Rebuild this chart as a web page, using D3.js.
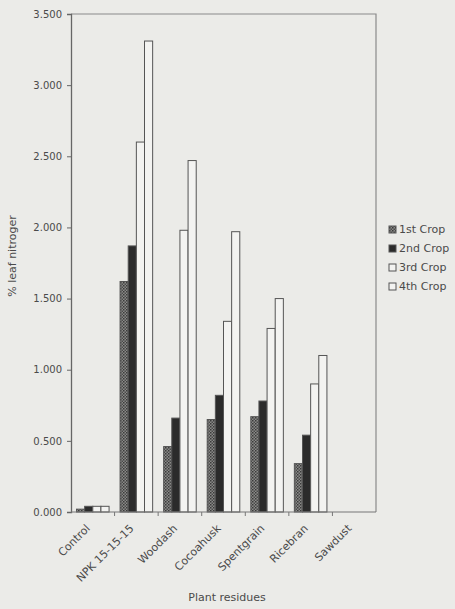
<!DOCTYPE html>
<html lang="en">
<head>
	<meta charset="UTF-8"/>
	<title>% leaf nitrogen by plant residue</title>
	<script src="https://d3js.org/d3.v7.min.js"></script>
	<style>
	body { margin: 0; background: #ebebe8; }
	text { font-family: "DejaVu Sans", sans-serif; fill: #4a4a4a; }
	</style>
</head>
<body>
	<div id="chart"></div>
	<script>

	// categories and series
	var categories = ["Control", "NPK 15-15-15", "Woodash", "Cocoahusk", "Spentgrain", "Ricebran", "Sawdust"];
	var seriesNames = ["1st Crop", "2nd Crop", "3rd Crop", "4th Crop"];

	// values (% leaf nitrogen)
	var crop1 = [0.02, 1.62, 0.46, 0.65, 0.67, 0.34, 0];
	var crop2 = [0.04, 1.87, 0.66, 0.82, 0.78, 0.54, 0];
	var crop3 = [0.04, 2.60, 1.98, 1.34, 1.29, 0.90, 0];
	var crop4 = [0.04, 3.31, 2.47, 1.97, 1.50, 1.10, 0];

	var yTicks = [0, 0.5, 1, 1.5, 2, 2.5, 3, 3.5];

	var w = 455;
	var h = 609;

	// plot area edges (note: "top" is reserved on window)
	var plotL = 71, plotR = 376, plotT = 14, plotB = 512;

	var allSeries = [crop1, crop2, crop3, crop4];

	var svg = d3.select("#chart")
			.append("svg")
			.attr("width", w)
			.attr("height", h);

	// stipple pattern for 1st crop
	var defs = svg.append("defs");
	var pat = defs.append("pattern")
			.attr("id", "stipple")
			.attr("patternUnits", "userSpaceOnUse")
			.attr("width", 3)
			.attr("height", 3);
	pat.append("rect").attr("width", 3).attr("height", 3).attr("fill", "#8a8a88");
	pat.append("rect").attr("width", 1.5).attr("height", 1.5).attr("fill", "#3a3a3a");
	pat.append("rect").attr("x", 1.5).attr("y", 1.5).attr("width", 1.5).attr("height", 1.5).attr("fill", "#4a4a4a");

	var fills = ["url(#stipple)", "#2b2b2b", "#f3f3f1", "#f3f3f1"];

	var x0 = d3.scaleBand()
			.domain(categories)
			.range([plotL, plotR])
			.paddingInner(0);

	var x1 = d3.scaleBand()
			.domain(seriesNames)
			.range([5.5, x0.bandwidth() - 5.5]);

	var yScale = d3.scaleLinear()
			.domain([0, 3.5])
			.range([plotB, plotT]);

	// plot frame (top and right)
	svg.append("path")
		.attr("d", "M" + plotL + "," + plotT + "H" + plotR + "V" + plotB)
		.attr("fill", "none")
		.attr("stroke", "#8a8a8a")
		.attr("stroke-width", 1.2);

	// bars
	categories.forEach(function(cat, ci) {
		allSeries.forEach(function(s, si) {
			var v = s[ci];
			if (v <= 0) return;
			svg.append("rect")
				.attr("x", x0(cat) + x1(seriesNames[si]))
				.attr("y", yScale(v))
				.attr("width", x1.bandwidth())
				.attr("height", plotB - yScale(v))
				.attr("fill", fills[si])
				.attr("stroke", "#555")
				.attr("stroke-width", 1);
		});
	});

	// y axis
	var yAxis = d3.axisLeft(yScale)
			.tickValues(yTicks)
			.tickFormat(d3.format(".3f"))
			.tickSize(4);

	var gy = svg.append("g")
		.attr("transform", "translate(" + plotL + ",0)")
		.call(yAxis);
	gy.select(".domain").attr("stroke", "#666").attr("stroke-width", 1.3);
	gy.selectAll(".tick line").attr("stroke", "#666");
	gy.selectAll(".tick text")
		.attr("x", -9)
		.attr("font-size", "10px")
		.attr("fill", "#4a4a4a")
		.style("font-family", "'DejaVu Sans', sans-serif");

	// x axis baseline with boundary ticks
	var gx = svg.append("g");
	gx.append("line")
		.attr("x1", plotL).attr("x2", plotR)
		.attr("y1", plotB).attr("y2", plotB)
		.attr("stroke", "#777").attr("stroke-width", 1.2);
	gx.selectAll(".bt")
		.data(categories.slice(1))
		.enter()
		.append("line")
		.attr("x1", function(d) { return x0(d); })
		.attr("x2", function(d) { return x0(d); })
		.attr("y1", plotB)
		.attr("y2", plotB + 4)
		.attr("stroke", "#777");

	// x labels, rotated
	gx.selectAll(".xl")
		.data(categories)
		.enter()
		.append("text")
		.attr("text-anchor", "end")
		.attr("font-size", "11px")
		.attr("transform", function(d) {
			return "translate(" + (x0(d) + x0.bandwidth() / 2 - 2) + "," + (plotB + 17) + ") rotate(-45)";
		})
		.text(function(d) { return d; });

	// axis titles
	svg.append("text")
		.attr("x", 227)
		.attr("y", 601)
		.attr("text-anchor", "middle")
		.attr("font-size", "11px")
		.text("Plant residues");

	svg.append("text")
		.attr("transform", "translate(16,256) rotate(-90)")
		.attr("text-anchor", "middle")
		.attr("font-size", "11px")
		.text("% leaf nitroger");

	// legend
	var legend = svg.append("g")
		.attr("transform", "translate(389,233)");
	seriesNames.forEach(function(name, i) {
		var g = legend.append("g").attr("transform", "translate(0," + (i * 19) + ")");
		g.append("rect")
			.attr("x", 0).attr("y", -7)
			.attr("width", 7).attr("height", 7)
			.attr("fill", fills[i])
			.attr("stroke", "#555");
		g.append("text")
			.attr("x", 10)
			.attr("y", 0)
			.attr("font-size", "11px")
			.text(name);
	});

	</script>
</body>
</html>
